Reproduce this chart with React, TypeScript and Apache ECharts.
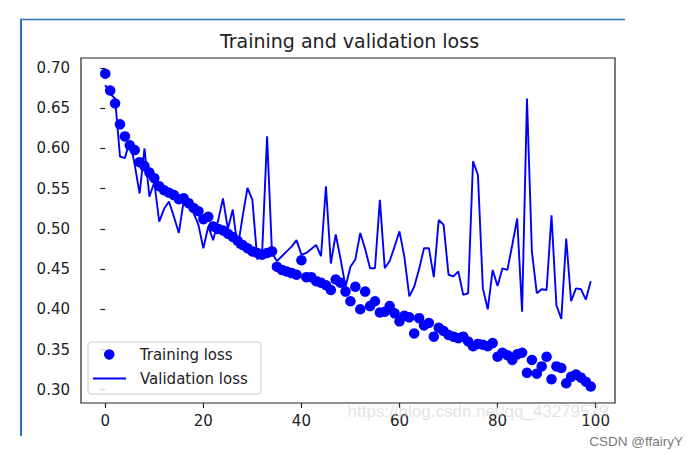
import React, { useEffect, useRef } from "react";
import * as echarts from "echarts";

const epochs: number[] = Array.from({ length: 100 }, (_, i) => i);

const trainingLoss: number[] = [
  0.693, 0.672, 0.656, 0.63, 0.615, 0.604, 0.598, 0.583, 0.578, 0.57,
  0.563, 0.553, 0.548, 0.545, 0.542, 0.537, 0.538, 0.532, 0.526, 0.522,
  0.512, 0.515, 0.503, 0.5, 0.498, 0.494, 0.49, 0.485, 0.48, 0.476,
  0.472, 0.47, 0.468, 0.47, 0.472, 0.453, 0.449, 0.447, 0.445, 0.443,
  0.461, 0.44, 0.44, 0.435, 0.433, 0.43, 0.424, 0.437, 0.433, 0.422,
  0.41, 0.428, 0.4, 0.422, 0.404, 0.41, 0.396, 0.397, 0.404, 0.395,
  0.385, 0.392, 0.39, 0.37, 0.389, 0.38, 0.383, 0.366, 0.377, 0.373,
  0.368, 0.366, 0.364, 0.366, 0.36, 0.354, 0.357, 0.356, 0.354, 0.358,
  0.341, 0.346, 0.343, 0.337, 0.344, 0.346, 0.321, 0.337, 0.32, 0.329,
  0.341, 0.313, 0.329, 0.327, 0.308, 0.316, 0.319, 0.315, 0.31, 0.304,
];

const validationLoss: number[] = [
  0.679, 0.668, 0.662, 0.59, 0.588, 0.61, 0.58, 0.544, 0.6, 0.54,
  0.558, 0.509, 0.525, 0.534, 0.515, 0.495, 0.535, 0.528, 0.52, 0.505,
  0.476, 0.503, 0.486, 0.51, 0.538, 0.5, 0.524, 0.476, 0.515, 0.551,
  0.536, 0.462, 0.472, 0.615, 0.47, 0.46, 0.466, 0.472, 0.478, 0.486,
  0.468, 0.47, 0.475, 0.48, 0.466, 0.553, 0.457, 0.493, 0.462, 0.428,
  0.453, 0.462, 0.495, 0.475, 0.451, 0.451, 0.536, 0.451, 0.46, 0.478,
  0.497, 0.465, 0.416, 0.428, 0.45, 0.476, 0.476, 0.44, 0.511, 0.505,
  0.443, 0.441, 0.447, 0.418, 0.42, 0.584, 0.567, 0.426, 0.4, 0.449,
  0.429, 0.451, 0.449, 0.48, 0.513, 0.397, 0.662, 0.472, 0.42, 0.425,
  0.424, 0.517, 0.405, 0.388, 0.488, 0.41, 0.426, 0.425, 0.412, 0.435,
];

const xTicks: number[] = [0, 20, 40, 60, 80, 100];
const yTicks: number[] = [0.3, 0.35, 0.4, 0.45, 0.5, 0.55, 0.6, 0.65, 0.7];

const titleText = "Training and validation loss";
const seriesNames = ["Training loss", "Validation loss"];
const watermark = "https://blog.csdn.net/qq_43279579";
const credit = "CSDN @ffairyY";

const FONT = "DejaVu Sans";
const BLUE = "#0000ff";

export default function App() {
  const ref = useRef<HTMLDivElement>(null);

  useEffect(() => {
    if (!ref.current) return;
    const chart = echarts.init(ref.current, null, { renderer: "svg" });
    const legendText = {
      fontFamily: FONT,
      fontSize: 15,
      color: "#222222",
      padding: [0, 0, 0, 9],
    };
    const option: any = {
      animation: false,
      backgroundColor: "#ffffff",
      title: {
        text: titleText,
        left: "center",
        top: 26,
        textStyle: {
          fontFamily: FONT,
          fontSize: 19,
          fontWeight: "normal",
          color: "#222222",
        },
      },
      grid: {
        left: 81,
        right: 84,
        top: 58,
        bottom: 57,
        show: true,
        borderColor: "#222222",
        borderWidth: 1.2,
        backgroundColor: "transparent",
      },
      xAxis: {
        type: "value",
        min: -4.95,
        max: 103.95,
        axisLine: { show: false },
        splitLine: { show: false },
        axisTick: {
          show: true,
          customValues: xTicks,
          length: 5,
          lineStyle: { color: "#222222", width: 1.2 },
        },
        axisLabel: {
          customValues: xTicks,
          margin: 10,
          fontFamily: FONT,
          fontSize: 15,
          color: "#222222",
          formatter: (v: number) => String(v),
        },
      },
      yAxis: {
        type: "value",
        min: 0.2835,
        max: 0.7125,
        axisLine: { show: false },
        splitLine: { show: false },
        axisTick: {
          show: true,
          customValues: yTicks,
          length: 5,
          lineStyle: { color: "#222222", width: 1.2 },
        },
        axisLabel: {
          customValues: yTicks,
          margin: 11,
          fontFamily: FONT,
          fontSize: 15,
          color: "#222222",
          formatter: (v: number) => v.toFixed(2),
        },
      },
      legend: [
        {
          data: [{ name: seriesNames[0], icon: "circle" }],
          left: 104,
          top: 347,
          padding: 0,
          itemWidth: 33,
          itemHeight: 10.5,
          textStyle: legendText,
          selectedMode: false,
        },
        {
          data: [{ name: seriesNames[1], icon: "rect" }],
          left: 93,
          top: 371,
          padding: 0,
          itemWidth: 33,
          itemHeight: 2,
          textStyle: legendText,
          selectedMode: false,
        },
      ],
      series: [
        {
          name: seriesNames[0],
          type: "scatter",
          symbol: "circle",
          symbolSize: 10.5,
          itemStyle: { color: BLUE, opacity: 1 },
          data: epochs.map((e, i) => [e, trainingLoss[i]]),
        },
        {
          name: seriesNames[1],
          type: "line",
          symbol: "none",
          lineStyle: { color: BLUE, width: 1.9 },
          itemStyle: { color: BLUE },
          data: epochs.map((e, i) => [e, validationLoss[i]]),
        },
      ],
      graphic: [
        {
          type: "rect",
          shape: { x: 88, y: 342, width: 173, height: 52, r: 3 },
          style: { fill: "rgba(255,255,255,0.8)", stroke: "#cccccc", lineWidth: 1 },
          z: 3,
        },
        {
          type: "line",
          shape: { x1: 21, y1: 19, x2: 21, y2: 436 },
          style: { stroke: "#2a72c8", lineWidth: 2 },
        },
        {
          type: "line",
          shape: { x1: 20, y1: 19.5, x2: 625, y2: 19.5 },
          style: { stroke: "#2a72c8", lineWidth: 1.5 },
        },
        {
          type: "text",
          x: 478,
          y: 411,
          style: {
            text: watermark,
            fontFamily: "Liberation Sans",
            fontSize: 17,
            fill: "rgba(200,200,200,0.5)",
            textAlign: "center",
            textVerticalAlign: "middle",
          },
          z: 10,
        },
        {
          type: "text",
          x: 683,
          y: 441,
          style: {
            text: credit,
            fontFamily: "Liberation Sans",
            fontSize: 13.5,
            fill: "#7a7a7a",
            textAlign: "right",
            textVerticalAlign: "middle",
          },
        },
      ],
    };
    chart.setOption(option);
    return () => chart.dispose();
  }, []);

  return (
    <div
      ref={ref}
      style={{ position: "fixed", left: 0, top: 0, width: 699, height: 460 }}
    />
  );
}
